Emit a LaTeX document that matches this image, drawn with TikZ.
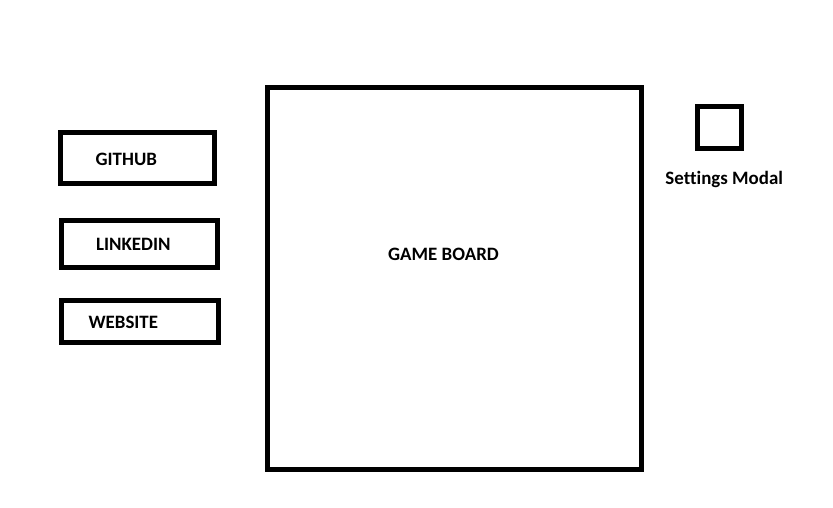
\documentclass[tikz,border=0pt]{standalone}
\usepackage{fontspec}
\setmainfont{Carlito}[Ligatures=NoCommon]
\begin{document}
\begin{tikzpicture}[x=1pt,y=-1pt,
  frame/.style={draw=black,line width=5pt,inner sep=0pt,outer sep=0pt,fill=none},
  lbl/.style={anchor=base,inner sep=0pt,font=\fontsize{18.9}{22}\selectfont\bfseries}]
\useasboundingbox[fill=white] (0,0) rectangle (833,508);
\node[frame,minimum width=374pt,minimum height=382pt] (board) at (454.5,278.5) {};
\node[frame,minimum width=154.5pt,minimum height=51.5pt] (github) at (137.25,158.25) {};
\node[frame,minimum width=156.5pt,minimum height=47.5pt] (linkedin) at (139.25,243.75) {};
\node[frame,minimum width=157pt,minimum height=42.5pt] (website) at (139.5,321.25) {};
\node[frame,minimum width=44pt,minimum height=41.5pt] (settings) at (719.5,127.75) {};
\node[lbl] (tgithub) at (126.3,165) {GITHUB};
\node[lbl] (tlinkedin) at (133.3,250) {LINKEDIN};
\node[lbl] (twebsite) at (123.3,328.7) {WEBSITE};
\node[lbl] (tboard) at (443.5,260) {GAME BOARD};
\node[lbl] (tsettings) at (724.2,184.3) {Settings Modal};
\end{tikzpicture}
\end{document}
